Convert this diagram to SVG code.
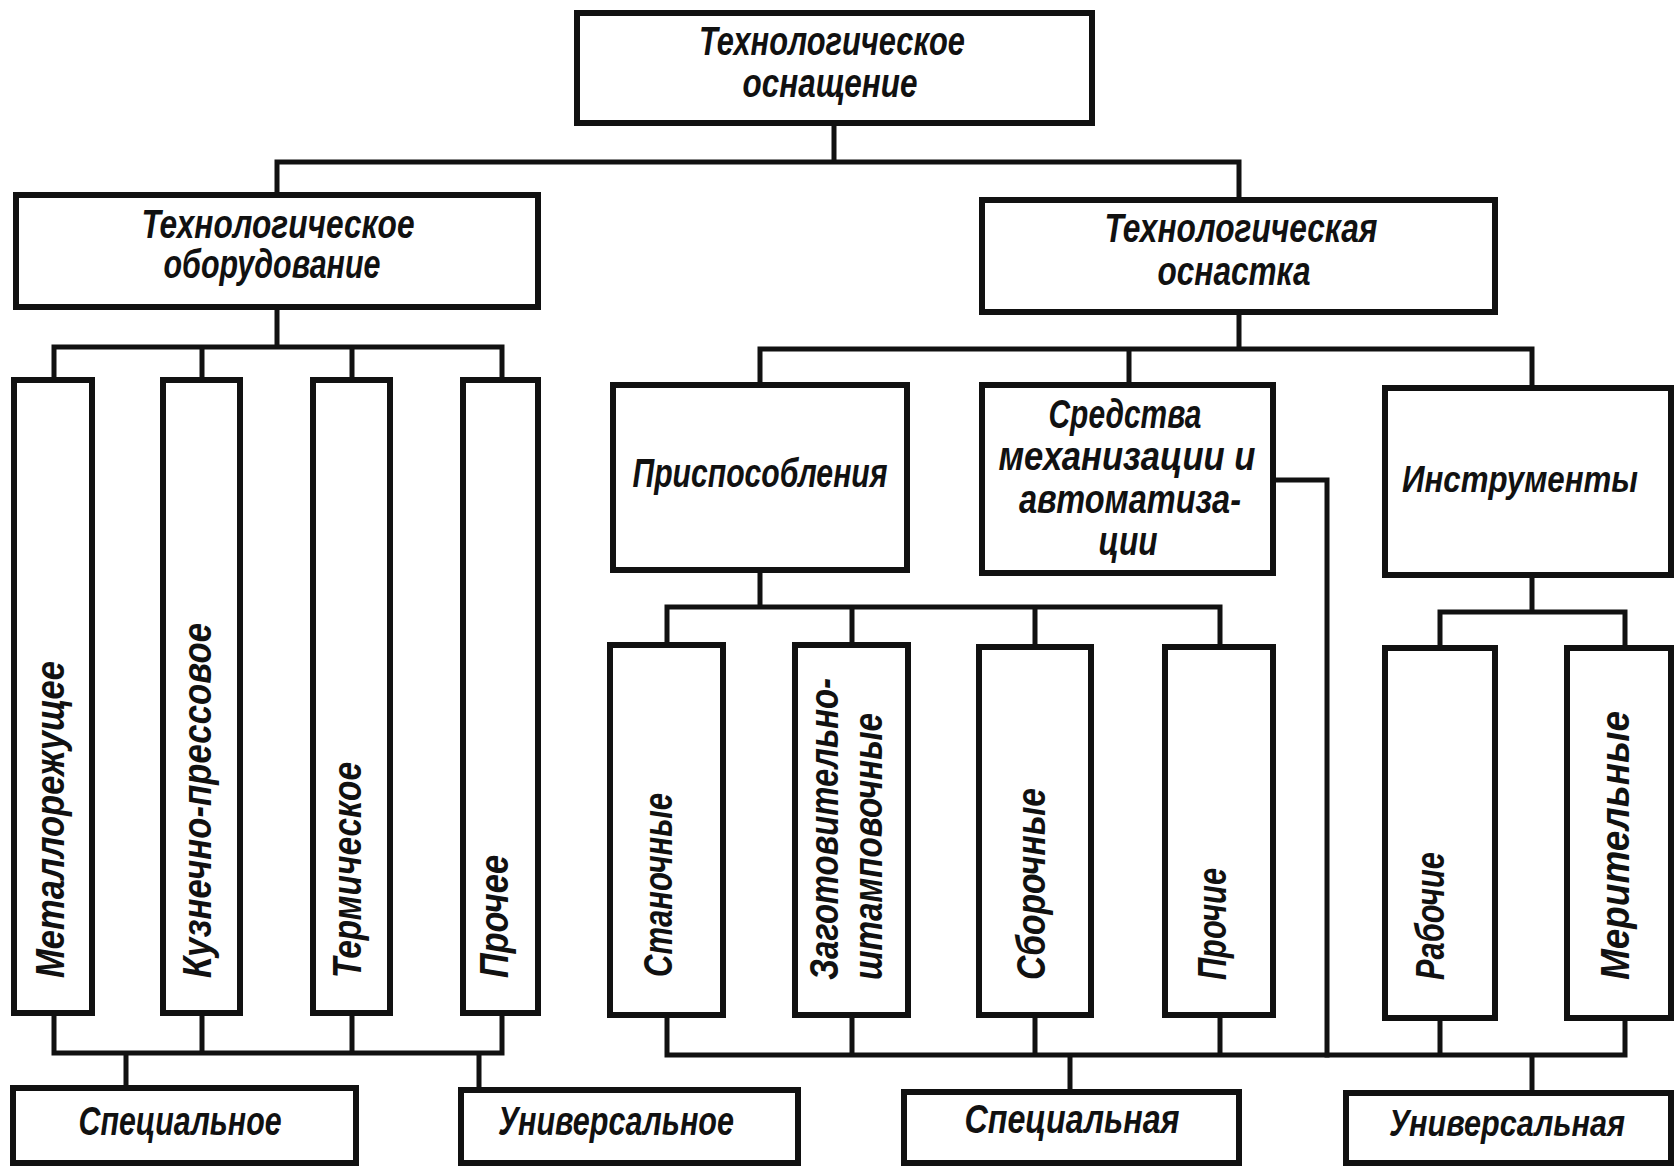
<svg xmlns="http://www.w3.org/2000/svg" width="1677" height="1167" viewBox="0 0 1677 1167">
<style>
.box{fill:#fff;stroke:#111;stroke-width:6}
.ln{fill:none;stroke:#111;stroke-width:5;stroke-linecap:square;stroke-linejoin:miter}
text{font-family:"Liberation Sans","DejaVu Sans",sans-serif;font-style:italic;font-weight:bold;font-size:40px;fill:#111}
.c{text-anchor:middle}
.s{font-size:36px}
</style>
<rect width="1677" height="1167" fill="#fff"/>
<g id="connectors">
<path class="ln" d="M834,123V162M277,162H1239M277,162V195M1239,162V200"/>
<path class="ln" d="M277,307V347M54,347H502M54,347V380M202,347V380M352,347V380M502,347V380"/>
<path class="ln" d="M1239,312V349M760,349H1532M760,349V385M1129,349V385M1532,349V388"/>
<path class="ln" d="M760,570V607M667,607H1220M667,607V645M852,607V645M1035,607V647M1220,607V647"/>
<path class="ln" d="M1532,575V612M1440,612H1625M1440,612V648M1625,612V648"/>
<path class="ln" d="M54,1013V1053M202,1013V1053M352,1013V1053M502,1013V1053M54,1053H502M126,1053V1088M479,1053V1090"/>
<path class="ln" d="M667,1015V1055M852,1015V1055M1035,1015V1055M1220,1015V1055M1440,1018V1055M1625,1018V1055M667,1055H1625M1070,1055V1092M1532,1055V1093"/>
<path class="ln" d="M1273,480H1327V1055"/>
</g>
<g id="n-top"><rect class="box" x="577" y="13" width="515" height="110"/>
<text class="c" x="832" y="55" textLength="266" lengthAdjust="spacingAndGlyphs">Технологическое</text>
<text class="c" x="830" y="97" textLength="175" lengthAdjust="spacingAndGlyphs">оснащение</text></g>
<g id="n-equip"><rect class="box" x="16" y="195" width="522" height="112"/>
<text class="c" x="278" y="238" textLength="273" lengthAdjust="spacingAndGlyphs">Технологическое</text>
<text class="c" x="272" y="278" textLength="217" lengthAdjust="spacingAndGlyphs">оборудование</text></g>
<g id="n-osn"><rect class="box" x="982" y="200" width="513" height="112"/>
<text class="c" x="1241" y="242" textLength="273" lengthAdjust="spacingAndGlyphs">Технологическая</text>
<text class="c" x="1234" y="285" textLength="153" lengthAdjust="spacingAndGlyphs">оснастка</text></g>
<g id="n-metal"><rect class="box" x="14" y="380" width="78" height="633"/>
<text transform="translate(64,978) rotate(-90)" textLength="317" lengthAdjust="spacingAndGlyphs">Металлорежущее</text></g>
<g id="n-kuz"><rect class="box" x="163" y="380" width="77" height="633"/>
<text transform="translate(211,978) rotate(-90)" textLength="355" lengthAdjust="spacingAndGlyphs">Кузнечно-прессовое</text></g>
<g id="n-term"><rect class="box" x="313" y="380" width="77" height="633"/>
<text transform="translate(361,978) rotate(-90)" textLength="216" lengthAdjust="spacingAndGlyphs">Термическое</text></g>
<g id="n-proch1"><rect class="box" x="463" y="380" width="75" height="633"/>
<text transform="translate(508,978) rotate(-90)" textLength="123" lengthAdjust="spacingAndGlyphs">Прочее</text></g>
<g id="n-prisp"><rect class="box" x="613" y="385" width="294" height="185"/>
<text class="c" x="760" y="487" textLength="255" lengthAdjust="spacingAndGlyphs">Приспособления</text></g>
<g id="n-sredstva"><rect class="box" x="982" y="385" width="291" height="188"/>
<text class="c" x="1125" y="428" textLength="153" lengthAdjust="spacingAndGlyphs">Средства</text>
<text class="c" x="1127" y="470" textLength="257" lengthAdjust="spacingAndGlyphs">механизации и</text>
<text class="c" x="1130" y="513" textLength="222" lengthAdjust="spacingAndGlyphs">автоматиза-</text>
<text class="c" x="1128" y="555" textLength="59" lengthAdjust="spacingAndGlyphs">ции</text></g>
<g id="n-instr"><rect class="box" x="1385" y="388" width="286" height="187"/>
<text class="c s" x="1520" y="492" textLength="236" lengthAdjust="spacingAndGlyphs">Инструменты</text></g>
<g id="n-stan"><rect class="box" x="610" y="645" width="113" height="370"/>
<text transform="translate(672,977) rotate(-90)" textLength="184" lengthAdjust="spacingAndGlyphs">Станочные</text></g>
<g id="n-zag"><rect class="box" x="795" y="645" width="113" height="370"/>
<text transform="translate(838,980) rotate(-90)" textLength="302" lengthAdjust="spacingAndGlyphs">Заготовительно-</text>
<text transform="translate(882,980) rotate(-90)" textLength="267" lengthAdjust="spacingAndGlyphs">штамповочные</text></g>
<g id="n-sbor"><rect class="box" x="979" y="647" width="112" height="368"/>
<text transform="translate(1045,980) rotate(-90)" textLength="192" lengthAdjust="spacingAndGlyphs">Сборочные</text></g>
<g id="n-proch2"><rect class="box" x="1165" y="647" width="108" height="368"/>
<text transform="translate(1226,980) rotate(-90)" textLength="112" lengthAdjust="spacingAndGlyphs">Прочие</text></g>
<g id="n-rab"><rect class="box" x="1385" y="648" width="110" height="370"/>
<text transform="translate(1444,980) rotate(-90)" textLength="128" lengthAdjust="spacingAndGlyphs">Рабочие</text></g>
<g id="n-mer"><rect class="box" x="1567" y="648" width="104" height="370"/>
<text transform="translate(1629,980) rotate(-90)" textLength="269" lengthAdjust="spacingAndGlyphs">Мерительные</text></g>
<g id="n-spec1"><rect class="box" x="13" y="1088" width="343" height="75"/>
<text class="c" x="180" y="1135" textLength="203" lengthAdjust="spacingAndGlyphs">Специальное</text></g>
<g id="n-univ1"><rect class="box" x="461" y="1090" width="337" height="73"/>
<text class="c" x="616" y="1135" textLength="236" lengthAdjust="spacingAndGlyphs">Универсальное</text></g>
<g id="n-spec2"><rect class="box" x="904" y="1092" width="335" height="71"/>
<text class="c" x="1072" y="1133" textLength="215" lengthAdjust="spacingAndGlyphs">Специальная</text></g>
<g id="n-univ2"><rect class="box" x="1346" y="1093" width="325" height="70"/>
<text class="c s" x="1507" y="1136" textLength="236" lengthAdjust="spacingAndGlyphs">Универсальная</text></g>
</svg>
